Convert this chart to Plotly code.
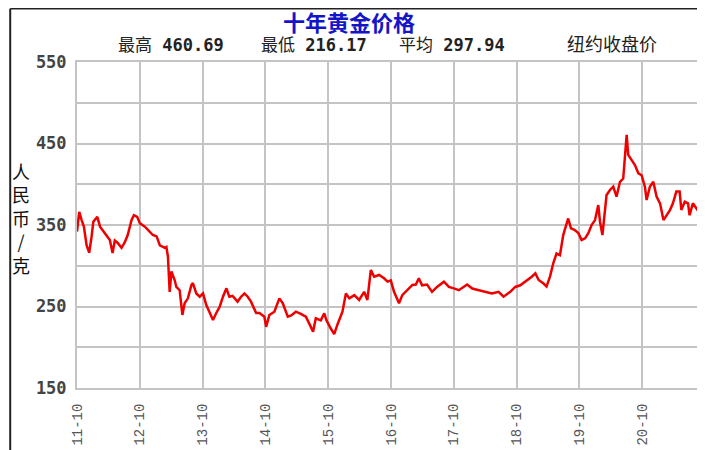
import plotly.graph_objects as go

# ---------------- data ----------------
dates = [
    "2011-10-01", "2011-10-14", "2011-10-28", "2011-11-10", "2011-11-26", "2011-12-11",
    "2011-12-25", "2012-01-04", "2012-01-27", "2012-02-12", "2012-03-11", "2012-04-09",
    "2012-04-25", "2012-05-08", "2012-05-25", "2012-06-16", "2012-07-05", "2012-07-22",
    "2012-08-13", "2012-08-27", "2012-09-15", "2012-10-01", "2012-10-30", "2012-11-16",
    "2012-12-15", "2013-01-06", "2013-01-25", "2013-02-23", "2013-03-04", "2013-03-13",
    "2013-03-19", "2013-03-23", "2013-04-02", "2013-04-21", "2013-05-01", "2013-05-20",
    "2013-06-05", "2013-06-18", "2013-07-07", "2013-07-27", "2013-08-05", "2013-08-25",
    "2013-09-14", "2013-10-03", "2013-10-22", "2013-11-11", "2013-11-30", "2013-12-19",
    "2014-01-08", "2014-01-27", "2014-02-16", "2014-03-05", "2014-03-24", "2014-04-22",
    "2014-05-12", "2014-06-01", "2014-06-20", "2014-07-09", "2014-08-08", "2014-08-27",
    "2014-09-25", "2014-10-05", "2014-10-24", "2014-11-22", "2014-12-21", "2015-01-10",
    "2015-02-08", "2015-02-28", "2015-03-27", "2015-04-25", "2015-05-24", "2015-06-22",
    "2015-07-05", "2015-07-21", "2015-08-19", "2015-09-08", "2015-09-21", "2015-10-16",
    "2015-11-05", "2015-11-24", "2015-12-23", "2016-01-12", "2016-02-01", "2016-03-01",
    "2016-03-29", "2016-04-27", "2016-05-16", "2016-06-05", "2016-06-24", "2016-07-23",
    "2016-08-21", "2016-09-10", "2016-09-29", "2016-10-18", "2016-11-16", "2016-12-05",
    "2017-01-04", "2017-02-02", "2017-02-22", "2017-03-11", "2017-03-30", "2017-04-28",
    "2017-05-27", "2017-06-25", "2017-08-04", "2017-09-02", "2017-10-01", "2017-10-30",
    "2017-12-17", "2018-01-16", "2018-02-24", "2018-04-02", "2018-05-10", "2018-06-18",
    "2018-07-17", "2018-08-25", "2018-09-23", "2018-10-22", "2018-11-21", "2018-12-28",
    "2019-01-18", "2019-02-06", "2019-03-05", "2019-03-24", "2019-04-13", "2019-05-02",
    "2019-05-21", "2019-06-10", "2019-06-29", "2019-07-12", "2019-07-28", "2019-08-13",
    "2019-09-02", "2019-09-25", "2019-10-14", "2019-11-03", "2019-11-22", "2019-12-11",
    "2019-12-31", "2020-01-19", "2020-01-29", "2020-02-12", "2020-02-24", "2020-03-07",
    "2020-03-27", "2020-04-15", "2020-05-04", "2020-05-24", "2020-06-12", "2020-06-22",
    "2020-07-02", "2020-07-11", "2020-07-30", "2020-08-19", "2020-09-08", "2020-09-27",
    "2020-10-16", "2020-10-26", "2020-11-14", "2020-12-04", "2020-12-23", "2021-01-12",
    "2021-02-01", "2021-02-20", "2021-03-10", "2021-03-28", "2021-04-17", "2021-05-06",
    "2021-05-16", "2021-06-05", "2021-06-24", "2021-07-03", "2021-07-22", "2021-08-11",
    "2021-08-31", "2021-09-13",
]

prices = [
    342, 366, 356, 348, 325, 316,
    336, 354, 360, 348, 340, 331.6,
    315.6, 331, 328, 322, 329, 337.7,
    356, 362, 360, 352, 348, 344,
    337.7, 336, 325, 322, 323, 311,
    282.5, 268, 293, 282.5, 274, 270,
    239.6, 254, 260, 276, 278.8, 266,
    262, 266, 251.8, 242, 233.5, 242,
    249.7, 262, 272.3, 262, 263, 256,
    262, 266, 262, 256, 242, 242,
    237.5, 225, 239.6, 243.6, 260, 254,
    237.5, 239, 243.6, 241, 237.5, 225,
    219, 235.5, 233, 241.6, 233, 223,
    216.17, 228, 243.6, 266, 260, 264,
    258, 268, 258, 294.8, 286.6, 288.7,
    284.6, 280.5, 282, 268, 254, 264,
    270, 276.4, 277, 284.6, 276, 277,
    268, 274, 280.5, 274, 272.3, 270,
    277, 272, 270, 268, 266, 268,
    262, 268, 274, 276, 280.5, 286.6,
    290.7, 282.5, 278.5, 274.5, 286.6, 303,
    315, 313, 337.7, 348, 358, 346,
    344, 340, 331.6, 333.6, 340, 350,
    356, 374.5, 354, 337.7, 360, 386.8,
    393, 397, 384.7, 403, 407, 434,
    460.69, 436, 429.8, 423.6, 413.4, 411,
    397, 380.7, 397, 403, 385, 376.6,
    356, 362, 368, 376.6, 391, 391,
    368.4, 378.5, 376.6, 362, 376.6, 370.6,
    364.4, 370,
]

x_tick_dates = ["2011-10-01", "2012-10-01", "2013-10-01", "2014-10-01", "2015-10-01",
                "2016-10-01", "2017-10-01", "2018-10-01", "2019-10-01", "2020-10-01"]
x_tick_labels = ["11-10", "12-10", "13-10", "14-10", "15-10",
                 "16-10", "17-10", "18-10", "19-10", "20-10"]
last_tick_label = "21-10"
y_tick_values = [150, 200, 250, 300, 350, 400, 450, 500, 550]
y_tick_labels = ["150", "", "250", "", "350", "", "450", "", "550"]

title_text = "十年黄金价格"
stat_names = ["最高", "最低", "平均"]
stat_values = ["460.69", "216.17", "297.94"]
source_label = "纽约收盘价"
y_title = "人民币/克"

# ---------------- figure ----------------
OFF = 8                      # page body margin of the browser
W, H = 705 - OFF, 450 - OFF
L, R, T, B = 77 - OFF, 0, 62 - OFF, 62
PW, PH = W - L - R, H - T - B


def px_x(p):                 # page pixel -> paper x
    return (p - OFF - L) / PW


def px_y(p):                 # page pixel -> paper y
    return (H - B - (p - OFF)) / PH


CJK = "Noto Sans CJK SC"
MONO = "DejaVu Sans Mono"
GRID = "#c4c4c4"

fig = go.Figure()
fig.add_trace(go.Scatter(
    x=dates, y=prices, mode="lines",
    line=dict(color="#ee0000", width=2.5),
    hoverinfo="skip", showlegend=False,
))

fig.update_layout(
    width=W, height=H, autosize=False,
    margin=dict(l=L, r=R, t=T, b=B, pad=0),
    paper_bgcolor="white", plot_bgcolor="white",
    showlegend=False,
    xaxis=dict(
        type="date", range=["2011-10-01", "2021-09-19"],
        tickmode="array", tickvals=x_tick_dates, ticktext=x_tick_labels,
        tickangle=-90, tickfont=dict(family="Liberation Mono", size=14, color="#555555"),
        ticks="outside", ticklen=8, tickcolor="rgba(0,0,0,0)",
        showgrid=True, gridcolor=GRID, gridwidth=2,
        showline=True, linecolor=GRID, linewidth=2, mirror=True,
        zeroline=False, fixedrange=True,
    ),
    yaxis=dict(
        range=[150, 550],
        tickmode="array", tickvals=y_tick_values, ticktext=y_tick_labels,
        tickfont=dict(family=MONO, size=17, color="#444444", weight="bold"),
        ticks="outside", ticklen=5, tickcolor="rgba(0,0,0,0)",
        showgrid=True, gridcolor=GRID, gridwidth=2,
        showline=True, linecolor=GRID, linewidth=2, mirror=True,
        zeroline=False, fixedrange=True,
    ),
)

annotations = []
# title
annotations.append(dict(
    text="<b>" + title_text + "</b>", xref="paper", yref="paper",
    x=px_x(350), y=px_y(21), xanchor="center", yanchor="middle", showarrow=False,
    font=dict(family=CJK, size=22, color="#1515c8"),
))
# stats
stat_lefts = [116, 260, 398]
for name, val, left in zip(stat_names, stat_values, stat_lefts):
    annotations.append(dict(
        text=name + " <b>" + val + "</b>", xref="paper", yref="paper",
        x=px_x(left), y=px_y(45), xanchor="left", yanchor="middle", showarrow=False,
        font=dict(family=MONO + ", " + CJK, size=17, color="#222222"),
    ))
annotations.append(dict(
    text=source_label, xref="paper", yref="paper",
    x=px_x(567), y=px_y(43), xanchor="left", yanchor="middle", showarrow=False,
    font=dict(family=CJK, size=18, color="#222222"),
))
# y title (stacked characters)
annotations.append(dict(
    text="<br>".join(list(y_title)), xref="paper", yref="paper",
    x=px_x(21), y=px_y(218), xanchor="center", yanchor="middle", showarrow=False,
    font=dict(family=CJK, size=18, color="#111111"),
))
# partially visible last x tick label
annotations.append(dict(
    text=last_tick_label, xref="paper", yref="paper",
    x=px_x(707), y=px_y(421), xanchor="center", yanchor="middle", showarrow=False,
    textangle=-90, font=dict(family="Liberation Mono", size=14, color="#555555"),
))
fig.update_layout(annotations=annotations)

# outer frame lines (left and top edges)
fig.add_shape(type="line", xref="paper", yref="paper",
              x0=px_x(10), x1=px_x(10), y0=px_y(8.7), y1=px_y(452),
              line=dict(color="#222222", width=2))
fig.add_shape(type="line", xref="paper", yref="paper",
              x0=px_x(10), x1=px_x(707), y0=px_y(8.7), y1=px_y(8.7),
              line=dict(color="#222222", width=1.5))

fig.write_html("out.html")
